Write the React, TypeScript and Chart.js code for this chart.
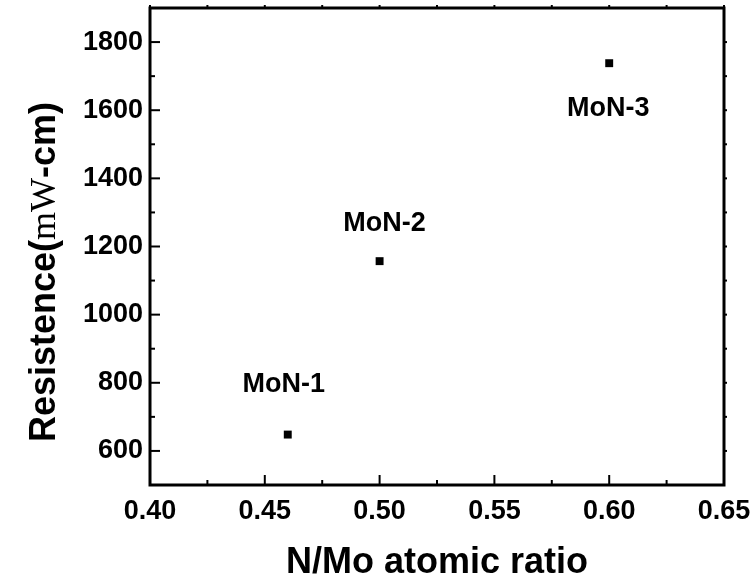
import React, { useEffect, useRef } from "react";
import { Chart, registerables } from "chart.js";

Chart.register(...registerables);

// ---- data ----
const sampleNames = ["MoN-1", "MoN-2", "MoN-3"];
const xValues = [0.46, 0.5, 0.6];
const yValues = [648, 1157, 1738];

const xTickValues = [0.4, 0.45, 0.5, 0.55, 0.6, 0.65];
const xMinorTickValues = [0.425, 0.475, 0.525, 0.575, 0.625];
const yTickValues = [600, 800, 1000, 1200, 1400, 1600, 1800];
const yMinorTickValues = [700, 900, 1100, 1300, 1500, 1700];

const xTitle = "N/Mo atomic ratio";
const yTitleParts = ["Resistence(", "mW", "-cm)"];

// ---- styling (pixel offsets of the sample labels from their points) ----
const labelOffsets = [
  [-4, -50],
  [5, -38],
  [-1, 45],
];

const SANS = '"Liberation Sans", Arial, sans-serif';
const SERIF = '"Liberation Serif", "Times New Roman", serif';

const framePlugin = {
  id: "frameAndLabels",
  afterDraw(chart: any) {
    const { ctx, chartArea, scales } = chart;
    const { left, right, top, bottom } = chartArea;
    const xs = scales.x;
    const ys = scales.y;
    ctx.save();
    ctx.strokeStyle = "#000";
    ctx.lineCap = "butt";
    ctx.lineWidth = 2;
    const line = (x1: number, y1: number, x2: number, y2: number) => {
      ctx.beginPath();
      ctx.moveTo(x1, y1);
      ctx.lineTo(x2, y2);
      ctx.stroke();
    };
    xTickValues.forEach((v) => {
      const px = xs.getPixelForValue(v);
      line(px, bottom, px, bottom - 10);
      line(px, top, px, top - 3);
    });
    xMinorTickValues.forEach((v) => {
      const px = xs.getPixelForValue(v);
      line(px, bottom, px, bottom - 5);
      line(px, top, px, top - 3);
    });
    yTickValues.forEach((v) => {
      const py = ys.getPixelForValue(v);
      line(left, py, left + 10, py);
      line(right, py, right + 3, py);
    });
    yMinorTickValues.forEach((v) => {
      const py = ys.getPixelForValue(v);
      line(left, py, left + 5, py);
      line(right, py, right + 3, py);
    });
    ctx.lineWidth = 3;
    ctx.strokeRect(left, top, right - left, bottom - top);

    // sample labels
    ctx.fillStyle = "#000";
    ctx.font = `bold 27px ${SANS}`;
    ctx.textAlign = "center";
    ctx.textBaseline = "middle";
    const meta = chart.getDatasetMeta(0);
    meta.data.forEach((el: any, i: number) => {
      const [dx, dy] = labelOffsets[i];
      ctx.fillText(sampleNames[i], el.x + dx, el.y + dy);
    });

    // y title with mixed fonts
    const fonts = [`bold 36px ${SANS}`, `36px ${SERIF}`, `bold 36px ${SANS}`];
    let total = 0;
    const widths = yTitleParts.map((t, i) => {
      ctx.font = fonts[i];
      const w = ctx.measureText(t).width;
      total += w;
      return w;
    });
    ctx.translate(55, 272);
    ctx.rotate(-Math.PI / 2);
    ctx.textAlign = "left";
    ctx.textBaseline = "alphabetic";
    let cx = -total / 2;
    yTitleParts.forEach((t, i) => {
      ctx.font = fonts[i];
      ctx.fillText(t, cx, 0);
      cx += widths[i];
    });
    ctx.restore();
  },
};

export default function App() {
  const ref = useRef<HTMLCanvasElement | null>(null);
  useEffect(() => {
    document.body.style.margin = "0";
    const canvas = ref.current;
    if (!canvas) return;
    const chart = new Chart(canvas, {
      type: "scatter",
      data: {
        datasets: [
          {
            data: xValues.map((x, i) => ({ x, y: yValues[i] })),
            pointStyle: "rect",
            pointRadius: 5.6,
            pointHoverRadius: 5.6,
            backgroundColor: "#000",
            borderColor: "#000",
            borderWidth: 0,
            showLine: false,
          },
        ],
      },
      options: {
        responsive: false,
        animation: false,
        events: [],
        layout: { padding: { top: 8, right: 32, left: 0, bottom: 0 } },
        plugins: { legend: { display: false }, tooltip: { enabled: false } },
        scales: {
          x: {
            type: "linear",
            min: 0.4,
            max: 0.65,
            afterBuildTicks: (s: any) => {
              s.ticks = xTickValues.map((v) => ({ value: v }));
            },
            afterFit: (s: any) => {
              s.height = 100;
              s.paddingLeft = 0;
              s.paddingRight = 0;
            },
            grid: { display: false, drawTicks: false },
            border: { display: false },
            ticks: {
              color: "#000",
              padding: 10,
              maxRotation: 0,
              autoSkip: false,
              font: { family: SANS, size: 27, weight: "bold" },
              callback: (v: any) => Number(v).toFixed(2),
            },
            title: {
              display: true,
              text: xTitle,
              color: "#000",
              font: { family: SANS, size: 36, weight: "bold" },
              padding: { top: 0, bottom: 0 },
            },
          },
          y: {
            type: "linear",
            min: 500,
            max: 1900,
            afterBuildTicks: (s: any) => {
              s.ticks = yTickValues.map((v) => ({ value: v }));
            },
            afterFit: (s: any) => {
              s.width = 150;
              s.paddingTop = 0;
              s.paddingBottom = 0;
            },
            grid: { display: false, drawTicks: false },
            border: { display: false },
            ticks: {
              color: "#000",
              padding: 7,
              autoSkip: false,
              font: { family: SANS, size: 27, weight: "bold" },
              callback: (v: any) => String(v),
            },
            title: { display: false },
          },
        },
      },
      plugins: [framePlugin],
    } as any);
    return () => chart.destroy();
  }, []);
  return (
    <div style={{ width: 756, height: 585 }}>
      <canvas ref={ref} width={756} height={585} style={{ display: "block" }} />
    </div>
  );
}
